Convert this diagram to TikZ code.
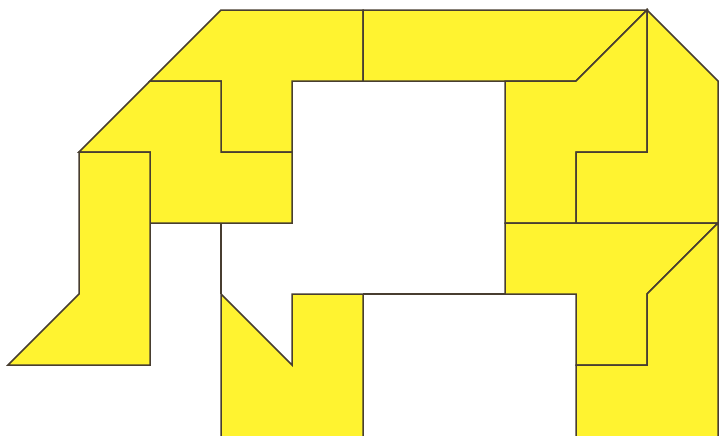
\documentclass[tikz,border=0pt]{standalone}
\usepackage{xcolor}
\usepackage{tikz}
\definecolor{pieceyellow}{RGB}{255, 243, 48}
\definecolor{edgebrown}{RGB}{72, 62, 48}

\begin{document}
\begin{tikzpicture}[
  piece/.style={fill=pieceyellow, draw=edgebrown, line width=0.6pt, line join=miter},
  seam/.style={draw=edgebrown, line width=0.6pt}
]
  \clip (-0.113,-5.986) rectangle (10.014,0.141);

  % upper left corner
  \filldraw[piece] (3,0) -- (5,0) -- (5,-1) -- (4,-1) -- (4,-2) -- (3,-2) -- (3,-1) -- (2,-1) -- cycle;
  \filldraw[piece] (2,-1) -- (3,-1) -- (3,-2) -- (4,-2) -- (4,-3) -- (2,-3) -- (2,-2) -- (1,-2) -- cycle;
  \filldraw[piece] (1,-2) -- (2,-2) -- (2,-5) -- (0,-5) -- (1,-4) -- cycle;

  % top bar and right corner
  \filldraw[piece] (5,0) -- (9,0) -- (8,-1) -- (5,-1) -- cycle;
  \filldraw[piece] (9,0) -- (9,-2) -- (8,-2) -- (8,-3) -- (7,-3) -- (7,-1) -- (8,-1) -- cycle;
  \filldraw[piece] (9,0) -- (10,-1) -- (10,-3) -- (8,-3) -- (8,-2) -- (9,-2) -- cycle;

  % lower right
  \filldraw[piece] (7,-3) -- (10,-3) -- (9,-4) -- (9,-5) -- (8,-5) -- (8,-4) -- (7,-4) -- cycle;
  \filldraw[piece] (10,-3) -- (10,-6.2) -- (8,-6.2) -- (8,-5) -- (9,-5) -- (9,-4) -- cycle;

  % bottom middle
  \filldraw[piece] (3,-4) -- (4,-5) -- (4,-4) -- (5,-4) -- (5,-6.2) -- (3,-6.2) -- cycle;

  % outline seams
  \draw[seam] (3,-3) -- (3,-4);
  \draw[seam] (5,-4) -- (7,-4);
\end{tikzpicture}
\end{document}
